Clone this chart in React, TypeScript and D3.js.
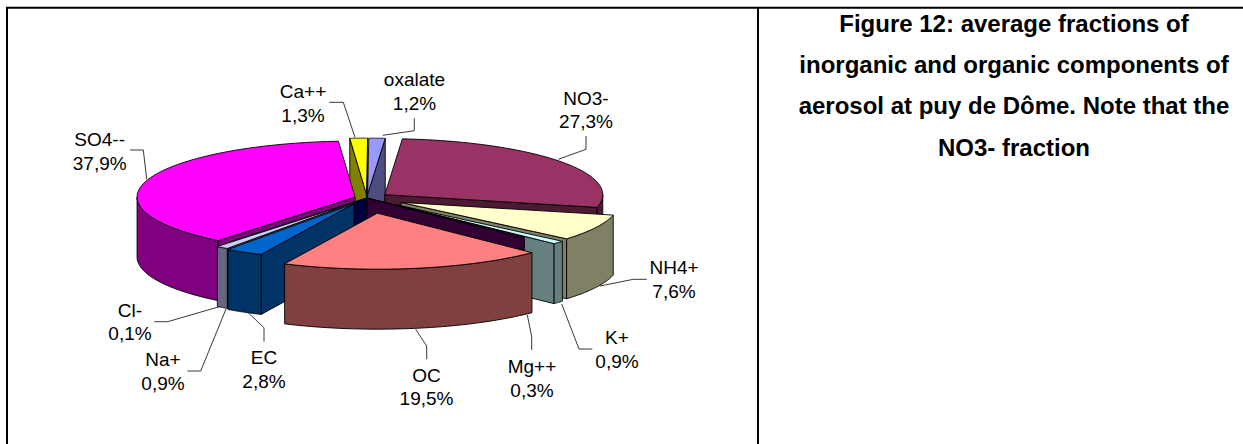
import React from "react";
import * as d3 from "d3";

// Aerosol composition, listed clockwise from the first slice.
const species = ["oxalate", "NO3-", "NH4+", "K+", "Mg++", "OC", "EC", "Na+", "Cl-", "SO4--", "Ca++"];
const fractions = [1.2, 27.3, 7.6, 0.9, 0.3, 19.5, 2.8, 0.9, 0.1, 37.9, 1.3];
const valueLabels = ["1,2%", "27,3%", "7,6%", "0,9%", "0,3%", "19,5%", "2,8%", "0,9%", "0,1%", "37,9%", "1,3%"];
const topColours = ["#9999ff", "#993366", "#ffffcc", "#ccffff", "#660066", "#ff8080", "#0066cc", "#ccccff", "#000080", "#ff00ff", "#ffff00"];
// How far each slice is pulled out of the pie, in pixels of ellipse width.
const pullOut = [15, 22, 38, 40, 0, 60, 26, 23, 0, 12.5, 15];
// Slices are painted from the back of the pie to the front.
const paintOrder = ["Ca++", "oxalate", "SO4--", "NO3-", "Cl-", "Na+", "EC", "NH4+", "K+", "Mg++", "OC"];

const captionLines = [
  "Figure 12: average fractions of",
  "inorganic and organic components of",
  "aerosol at puy de Dôme. Note that the",
  "NO3- fraction",
];

// Label centres (first-line baseline) and leader routes around the pie.
const labelLayout: Record<string, { x: number; y: number; leader: [number, number][] }> = {
  "oxalate": { x: 414.5, y: 86, leader: [[382.7, 135.3], [414.3, 130.7], [414.3, 118.3]] },
  "NO3-": { x: 586, y: 104.5, leader: [[558.3, 159.3], [586, 149.3], [586, 136]] },
  "NH4+": { x: 674, y: 274, leader: [[600, 286], [633.3, 279.3], [646.7, 279.3]] },
  "K+": { x: 617, y: 344, leader: [[561.7, 304], [579, 349], [592.3, 349]] },
  "Mg++": { x: 532, y: 373, leader: [[527.3, 315], [531.7, 336.7], [531.7, 350]] },
  "OC": { x: 426.5, y: 381.7, leader: [[415.7, 329.3], [426.7, 346], [426.7, 359.3]] },
  "EC": { x: 264, y: 364, leader: [[247.7, 312.3], [264, 327.7], [264, 341.7]] },
  "Na+": { x: 163, y: 366, leader: [[226, 309], [200.7, 371], [187.3, 371]] },
  "Cl-": { x: 130, y: 316.7, leader: [[219.3, 306.7], [167.7, 321.7], [154.3, 321.7]] },
  "SO4--": { x: 99.7, y: 146, leader: [[146.7, 179.3], [143.3, 150], [130, 150]] },
  "Ca++": { x: 303, y: 98, leader: [[355, 137.3], [343.3, 102.3], [329.3, 102.3]] },
};

const WIDTH = 1243;
const HEIGHT = 444;
const CENTRE_X = 367;
const CENTRE_Y = 198;
const RADIUS_X = 218;
const RADIUS_Y = 56;
const DEPTH = 60;
const FIRST_ANGLE = 0.3 * (Math.PI / 180);
const LABEL_FONT = "Liberation Sans, Arial, sans-serif";

const pieLayout = d3
  .pie<number>()
  .sort(null)
  .startAngle(FIRST_ANGLE)
  .endAngle(FIRST_ANGLE + 2 * Math.PI);

const pointOnRim = (angle: number, ox: number, oy: number, drop = 0): [number, number] => [
  ox + RADIUS_X * Math.sin(angle),
  oy - RADIUS_Y * Math.cos(angle) + drop,
];

const line = d3.line();

function darken(colour: string): string {
  const c = d3.rgb(colour);
  return d3.rgb(c.r / 2, c.g / 2, c.b / 2).formatHex();
}

type SliceProps = { index: number; start: number; end: number };

function Slice({ index, start, end }: SliceProps) {
  const mid = (start + end) / 2;
  const pull = pullOut[index];
  const ox = CENTRE_X + pull * Math.sin(mid);
  const oy = CENTRE_Y - (pull * RADIUS_Y * Math.cos(mid)) / RADIUS_X;
  const top = topColours[index];
  const wall = darken(top);

  const sweep = d3.range(0, 1.0001, 1 / 48).map((t) => start + (end - start) * t);
  const rim = sweep.map((a) => pointOnRim(a, ox, oy));

  const frontFrom = Math.max(start, Math.PI / 2);
  const frontTo = Math.min(end, (3 * Math.PI) / 2);
  const frontSweep =
    frontTo > frontFrom ? d3.range(0, 1.0001, 1 / 48).map((t) => frontFrom + (frontTo - frontFrom) * t) : [];
  const outerWall = frontSweep.length
    ? [
        ...frontSweep.map((a) => pointOnRim(a, ox, oy)),
        ...frontSweep.slice().reverse().map((a) => pointOnRim(a, ox, oy, DEPTH)),
      ]
    : null;

  const radialWall = (a: number): [number, number][] => [
    [ox, oy],
    pointOnRim(a, ox, oy),
    pointOnRim(a, ox, oy, DEPTH),
    [ox, oy + DEPTH],
  ];

  const stroke = { stroke: "#000", strokeWidth: 0.9, strokeLinejoin: "round" as const };
  return (
    <g>
      {Math.sin(start) < 0 && <path d={line(radialWall(start)) + "Z"} fill={wall} {...stroke} />}
      {Math.sin(end) > 0 && <path d={line(radialWall(end)) + "Z"} fill={wall} {...stroke} />}
      {outerWall && <path d={line(outerWall) + "Z"} fill={wall} {...stroke} />}
      <path d={line([[ox, oy], ...rim]) + "Z"} fill={top} {...stroke} />
    </g>
  );
}

export default function App() {
  const arcs = pieLayout(fractions);
  return (
    <svg
      width={WIDTH}
      height={HEIGHT}
      style={{ position: "absolute", left: 0, top: 0, background: "#fff" }}
    >
      {/* Table rules around the chart and its caption */}
      <g fill="none" stroke="#000" strokeWidth={2}>
        <line x1={6} y1={7.7} x2={WIDTH} y2={7.7} />
        <line x1={7} y1={7} x2={7} y2={HEIGHT} />
        <line x1={758} y1={7} x2={758} y2={HEIGHT} />
      </g>

      {paintOrder.map((name) => {
        const i = species.indexOf(name);
        return <Slice key={name} index={i} start={arcs[i].startAngle} end={arcs[i].endAngle} />;
      })}

      {species.map((name, i) => {
        const spot = labelLayout[name];
        return (
          <g key={name}>
            <path d={line(spot.leader) ?? ""} fill="none" stroke="#222" strokeWidth={0.9} />
            <text textAnchor="middle" fontFamily={LABEL_FONT} fontSize={19} fill="#000">
              <tspan x={spot.x} y={spot.y}>{name}</tspan>
              <tspan x={spot.x} y={spot.y + 23.5}>{valueLabels[i]}</tspan>
            </text>
          </g>
        );
      })}

      <text textAnchor="middle" fontFamily={LABEL_FONT} fontSize={24} fontWeight="bold" fill="#000">
        {captionLines.map((row, i) => (
          <tspan key={row} x={1014} y={32 + i * 41.2}>
            {row}
          </tspan>
        ))}
      </text>
    </svg>
  );
}
